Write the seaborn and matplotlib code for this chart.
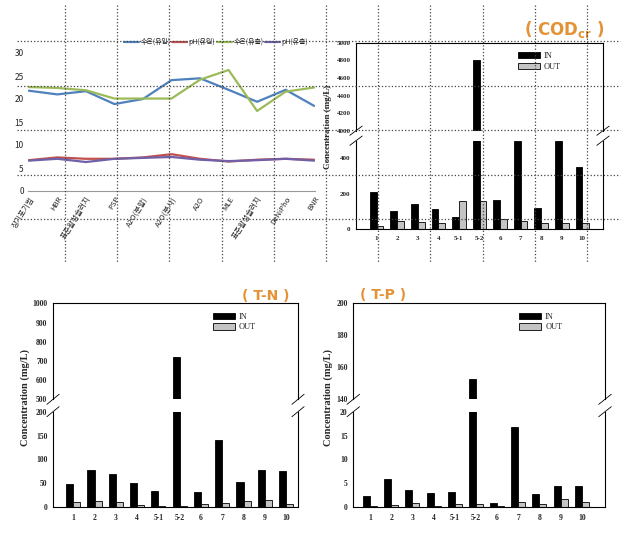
import numpy as np
import pandas as pd
import matplotlib
matplotlib.use("Agg")
import matplotlib.pyplot as plt
import seaborn as sns

# --- DATA ---
processes = ["장기포기법", "HBR", "표준활성슬러지", "PSP", "A2O(분할)", "A2O(분사)",
             "A2O", "MLE", "표준활성슬러지", "DeNiPho", "BNR"]
temp_in = [21.8, 21.0, 21.7, 18.9, 20.0, 24.1, 24.5, 22.0, 19.4, 22.0, 18.5]
ph_in = [6.7, 7.3, 7.0, 7.0, 7.3, 8.0, 7.0, 6.4, 6.8, 7.0, 6.8]
temp_out = [22.6, 22.4, 21.9, 20.1, 20.1, 20.1, 24.2, 26.3, 17.4, 21.6, 22.5]
ph_out = [6.6, 7.0, 6.3, 7.0, 7.2, 7.4, 6.8, 6.5, 6.7, 7.0, 6.6]
line_series = ["수온(유입)", "pH(유입)", "수온(유출)", "pH(유출)"]
line_colors = ["#4F81BD", "#C0504D", "#9BBB59", "#7060A8"]

sites = ["1", "2", "3", "4", "5-1", "5-2", "6", "7", "8", "9", "10"]
cod_in = [211, 104, 143, 115, 68, 4800, 166, 500, 123, 500, 353]
cod_out = [19, 47, 40, 36, 160, 160, 58, 49, 36, 36, 34]
tn_in = [48, 78, 69, 50, 34, 722, 33, 140, 53, 79, 76]
tn_out = [11, 14, 11, 5, 3, 3, 7, 9, 14, 15, 6]
tp_in = [2.4, 5.9, 3.6, 3.0, 3.2, 152.7, 1.0, 16.8, 2.8, 4.4, 4.5]
tp_out = [0.3, 0.5, 0.9, 0.2, 0.7, 0.7, 0.3, 1.1, 0.7, 1.7, 1.1]

ORANGE = "#E39335"
SERIF = "Liberation Serif"

sns.set_style("white")
plt.rcParams["font.family"] = ["Noto Sans CJK KR", "DejaVu Sans"]

W, H = 637, 542
fig = plt.figure(figsize=(W / 100, H / 100), dpi=100)


def px(x0, y0, x1, y1):
    # pixel box (top-left origin) -> figure fraction rect
    return [x0 / W, 1 - y1 / H, (x1 - x0) / W, (y1 - y0) / H]


# --- line chart (top left) ---
ax = fig.add_axes(px(28, 53, 315, 191))
pos = np.arange(len(processes))
line_df = pd.concat([
    pd.DataFrame({"pos": pos, "value": vals, "series": name})
    for name, vals in zip(line_series, [temp_in, ph_in, temp_out, ph_out])
])
sns.lineplot(data=line_df, x="pos", y="value", hue="series", hue_order=line_series,
             palette=line_colors, sort=False, linewidth=1.6, ax=ax)
ax.set_xlim(-0.03, len(processes) - 0.97)
ax.set_ylim(0, 30)
ax.set_yticks(range(0, 31, 5))
ax.set_xticks(pos)
ax.set_xticklabels(processes, rotation=58, ha="right", rotation_mode="anchor",
                   fontsize=5.5, style="italic")
ax.tick_params(axis="both", length=0, labelsize=6, pad=3)
ax.tick_params(axis="x", labelsize=5.5)
ax.set_xlabel("")
ax.set_ylabel("")
for s in ["top", "right", "left"]:
    ax.spines[s].set_visible(False)
ax.spines["bottom"].set_color("#999999")
ax.spines["bottom"].set_linewidth(0.8)
ax.legend(loc="lower right", bbox_to_anchor=(1.0, 1.0), ncol=4, frameon=False,
          fontsize=5, handlelength=2.2, columnspacing=0.2, handletextpad=0.2,
          borderaxespad=0.6)


# --- broken-axis bar charts ---
def broken_bars(rect_hi, rect_lo, vin, vout, hi_lim, lo_lim, hi_ticks, lo_ticks, xlim,
                tick_size=5.5):
    df = pd.concat([
        pd.DataFrame({"site": sites, "value": vin, "type": "IN"}),
        pd.DataFrame({"site": sites, "value": vout, "type": "OUT"}),
    ])
    ax_hi = fig.add_axes(rect_hi)
    ax_lo = fig.add_axes(rect_lo)
    for a, lim, ticks in [(ax_hi, hi_lim, hi_ticks), (ax_lo, lo_lim, lo_ticks)]:
        sns.barplot(data=df, x="site", y="value", hue="type", order=sites,
                    hue_order=["IN", "OUT"], palette={"IN": "black", "OUT": "#C4C4C4"},
                    edgecolor="black", linewidth=0.6, width=0.66, ax=a)
        a.set_ylim(*lim)
        a.set_yticks(ticks)
        a.set_xlim(*xlim)
        a.set_xlabel("")
        a.set_ylabel("")
        a.tick_params(axis="y", direction="out", length=2, width=0.6, pad=2)
        a.tick_params(axis="x", length=0, pad=5)
        for lab in a.get_yticklabels() + a.get_xticklabels():
            lab.set_fontfamily(SERIF)
            lab.set_fontweight("bold")
            lab.set_fontsize(tick_size)
        for s in a.spines.values():
            s.set_color("black")
            s.set_linewidth(0.8)
    ax_hi.spines["bottom"].set_visible(False)
    ax_hi.set_xticks([])
    ax_lo.spines["top"].set_visible(False)
    ax_lo.get_legend().remove()
    handles, labels = ax_hi.get_legend_handles_labels()
    ax_hi.legend(handles, labels, loc="upper right", bbox_to_anchor=(0.86, 0.98),
                 frameon=False, handlelength=2.6, handleheight=0.8, handletextpad=0.5,
                 labelspacing=0.3, prop={"family": SERIF, "size": 6})
    # break marks
    d = 0.035
    kw = dict(color="black", lw=0.6, clip_on=False)
    for xx in (0, 1):
        ax_hi.plot([xx - 0.025, xx + 0.025], [-d * 1.5, d * 1.5], transform=ax_hi.transAxes, **kw)
        ax_lo.plot([xx - 0.025, xx + 0.025], [1 - d * 1.5, 1 + d * 1.5], transform=ax_lo.transAxes, **kw)
    return ax_hi, ax_lo


broken_bars(px(356, 42.7, 603, 130.7), px(356, 140.7, 603, 229.3), cod_in, cod_out,
            (4000, 5000), (0, 500), range(4000, 5001, 200), range(0, 401, 200), (-1.0, 11.0),
            tick_size=5)
broken_bars(px(53, 303.3, 298, 399.3), px(53, 411.7, 298, 507.3), tn_in, tn_out,
            (500, 1000), (0, 200), range(500, 1001, 100), range(0, 201, 50), (-0.95, 10.56))
broken_bars(px(353.3, 303.3, 605, 399.3), px(353.3, 411.7, 605, 507.3), tp_in, tp_out,
            (140, 200), (0, 20), range(140, 201, 20), range(0, 21, 5), (-0.79, 11.1))

# y labels and titles
ylab = dict(rotation=90, ha="center", va="center", fontweight="bold", family=SERIF)
fig.text(328 / W, 1 - 127 / H, "Concentration (mg/L)", fontsize=6.5, **ylab)
fig.text(25 / W, 1 - 397 / H, "Concentration (mg/L)", fontsize=7.5, **ylab)
fig.text(328 / W, 1 - 397 / H, "Concentration (mg/L)", fontsize=7.5, **ylab)

fig.text(564 / W, 1 - 30 / H, r"( COD$_{\mathbf{cr}}$ )", ha="center", va="center",
         fontsize=12, fontweight="bold", color=ORANGE, family="DejaVu Sans")
fig.text(266 / W, 1 - 296 / H, "( T-N )", ha="center", va="center",
         fontsize=10, fontweight="bold", color=ORANGE, family="DejaVu Sans")
fig.text(383 / W, 1 - 295 / H, "( T-P )", ha="center", va="center",
         fontsize=10, fontweight="bold", color=ORANGE, family="DejaVu Sans")

# dotted layout grid laid over the top half
oax = fig.add_axes([0, 0, 1, 1], zorder=10)
oax.set_xlim(0, W)
oax.set_ylim(H, 0)
oax.axis("off")
oax.patch.set_alpha(0)
for gx in 65 + 52.2 * np.arange(11):
    oax.plot([gx, gx], [5, 262], color="#444444", lw=0.9, ls=":")
for gy in 41 + 44.5 * np.arange(5):
    oax.plot([17, 620], [gy, gy], color="#444444", lw=0.9, ls=":")

fig.savefig("out.png", dpi=100)
